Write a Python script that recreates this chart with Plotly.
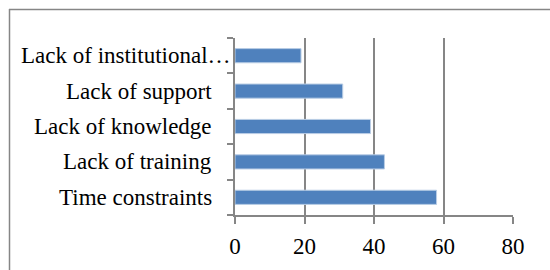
import plotly.graph_objects as go

categories = ["Time constraints", "Lack of training", "Lack of knowledge",
              "Lack of support", "Lack of institutional…"]
values = [58, 43, 39, 31, 19]
x_ticks = [0, 20, 40, 60, 80]

W, H = 550, 270
L, R, T, B = 235, 37, 38, 55
pw, ph = W - L - R, H - T - B

def px(x):
    return (x - L) / pw

def py(y):
    return (H - B - y) / ph

fig = go.Figure(go.Bar(
    x=values, y=categories, orientation="h",
    marker=dict(color="#4F81BD", line=dict(color="#B9CDE5", width=1)),
))

grey = "#868686"
font = dict(family="Liberation Serif", size=23, color="black")

# category labels as text annotations (the truncated one overflows past the others)
annotations = []
for c in categories:
    right = 233 if c.endswith("…") else 214
    annotations.append(dict(x=px(right), xref="paper", y=c, yref="y", text=c,
                            showarrow=False, xanchor="right", yanchor="middle", font=font))

fig.update_layout(
    width=W, height=H,
    margin=dict(l=L, r=R, t=T, b=B),
    paper_bgcolor="white", plot_bgcolor="white",
    bargap=0.6, showlegend=False,
    font=font,
    xaxis=dict(range=[0, 80], tickvals=x_ticks, showgrid=True, gridcolor=grey, gridwidth=1.5,
               showline=True, linecolor=grey, linewidth=1.5, ticks="outside", ticklen=7,
               tickcolor=grey, tickwidth=1.5, zeroline=False, tickfont=font, fixedrange=True,
               ticklabelstandoff=3),
    yaxis=dict(showline=True, linecolor=grey, linewidth=1.5, ticks="outside", ticklen=6,
               tickcolor=grey, tickwidth=1.5, tickson="boundaries", showgrid=False,
               showticklabels=False, fixedrange=True),
    annotations=annotations,
    shapes=[
        dict(type="line", xref="paper", yref="paper", x0=px(9), x1=px(551), y0=py(9.5), y1=py(9.5),
             line=dict(color=grey, width=1.5)),
        dict(type="line", xref="paper", yref="paper", x0=px(9.5), x1=px(9.5), y0=py(9), y1=py(271),
             line=dict(color=grey, width=1.5)),
    ],
)

fig.write_html("out.html", config={"displayModeBar": False},
               post_script="document.body.style.margin='0';")
